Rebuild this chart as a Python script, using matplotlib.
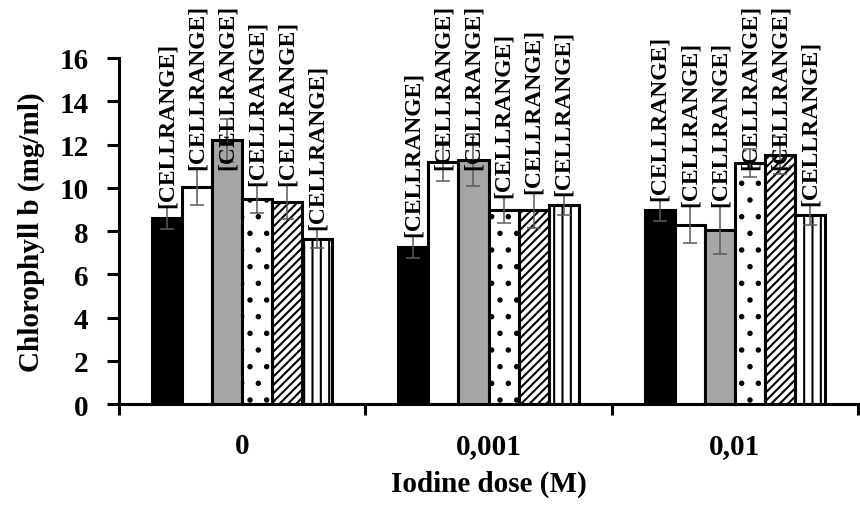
#!/usr/bin/env python3

import numpy as np
from matplotlib import pyplot as plt

doses = ['0', '0,001', '0,01']

# six treatments, one value per dose
s1 = [8.6, 7.25, 8.95]
s2 = [10.05, 11.2, 8.3]
s3 = [12.2, 11.3, 8.05]
s4 = [9.5, 8.95, 11.15]
s5 = [9.35, 8.95, 11.5]
s6 = [7.65, 9.2, 8.75]

e1 = [0.5, 0.5, 0.5]
e2 = [0.85, 0.9, 0.85]
e3 = [1.0, 1.2, 1.1]
e4 = [0.65, 0.6, 0.65]
e5 = [0.8, 0.8, 0.85]
e6 = [0.45, 0.45, 0.45]

label_text = '[CELLRANGE]'


def main():
	plt.rcParams['font.family'] = ['Liberation Serif', 'DejaVu Serif']
	plt.rcParams['font.weight'] = 'bold'
	plt.rcParams['hatch.linewidth'] = 1.5

	fig = plt.figure(figsize=(8.6, 5.06), dpi=100)
	ax = fig.add_axes([0.1384, 0.1996, 0.8593, 0.6838])

	series = [s1, s2, s3, s4, s5, s6]
	errs = [e1, e2, e3, e4, e5, e6]
	colors = ['black', 'white', '#a6a6a6', 'white', 'white', 'white']
	hatches = [None, None, None, '.', '////', '||']

	x = np.arange(len(doses))
	w = 0.122
	texts = []
	for i in range(6):
		pos = x + (i - 2.5) * w
		ax.bar(pos, series[i], w, color=colors[i], edgecolor='black',
			linewidth=2.2, hatch=hatches[i], zorder=2)
		ax.errorbar(pos, series[i], yerr=errs[i], fmt='none', ecolor='#5a5a5a',
			elinewidth=1.1, capsize=5, capthick=1.1, zorder=3)
		for p, v, e in zip(pos, series[i], errs[i]):
			t = ax.text(p, v + e, label_text, rotation=90, ha='center', va='bottom',
				fontsize=17, fontweight='bold', clip_on=False, zorder=4)
			texts.append(t)

	ax.set_xlim(-0.5, 2.5)
	ax.set_ylim(0, 16)
	ax.set_yticks(range(0, 17, 2))
	ax.set_xticks(x)
	ax.set_xticklabels(doses)
	ax.set_xticks([-0.5, 0.5, 1.5, 2.5], minor=True)
	ax.tick_params(axis='x', which='major', length=0, labelsize=21, pad=20)
	ax.tick_params(axis='x', which='minor', length=8, width=2.2, direction='out')
	ax.tick_params(axis='y', length=9, width=2.2, direction='out', labelsize=21, pad=13)

	for s in ['top', 'right']:
		ax.spines[s].set_visible(False)
	for s in ['left', 'bottom']:
		ax.spines[s].set_linewidth(2.2)

	ax.set_xlabel('Iodine dose (M)', fontsize=21, fontweight='bold', labelpad=8)
	ax.set_ylabel('Chlorophyll b (mg/ml)', fontsize=21, fontweight='bold', labelpad=10)

	# keep labels inside the figure like the original chart does
	fig.canvas.draw()
	r = fig.canvas.get_renderer()
	top_limit = fig.bbox.height - 5
	for t in texts:
		bb = t.get_window_extent(r)
		if bb.y1 > top_limit:
			px, py = ax.transData.transform(t.get_position())
			ny = ax.transData.inverted().transform((px, py - (bb.y1 - top_limit)))[1]
			t.set_y(ny)

	fig.savefig('out.png', dpi=100)


if __name__ == '__main__':
	main()
